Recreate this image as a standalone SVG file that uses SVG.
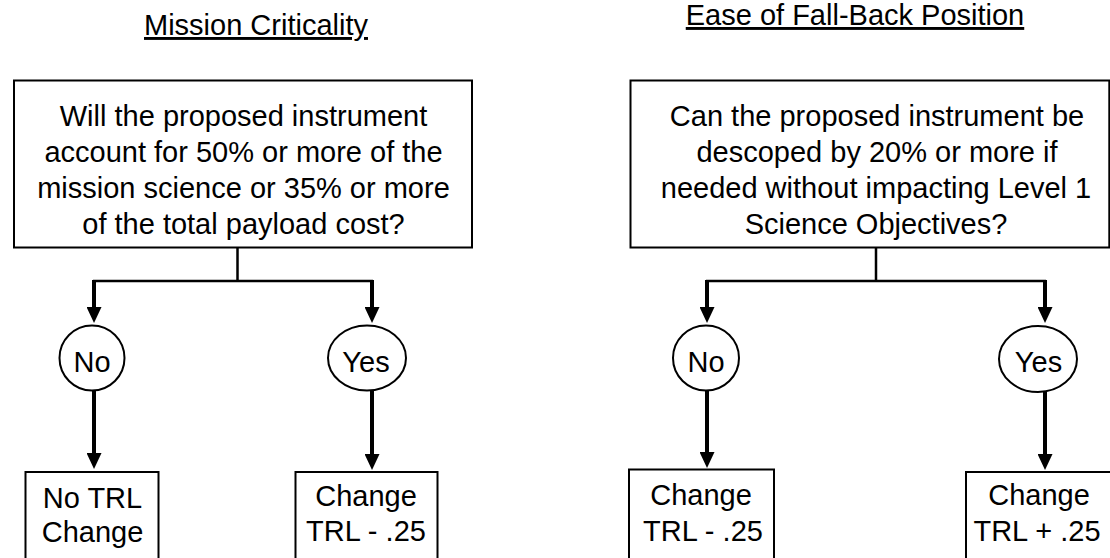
<svg xmlns="http://www.w3.org/2000/svg" width="1110" height="558" viewBox="0 0 1110 558">
  <style>
    text { font-family: "Liberation Sans", Arial, sans-serif; font-size: 29px; fill: #000; text-anchor: middle; }
    .title { text-decoration: underline; }
    .box { fill: #fff; stroke: #000; stroke-width: 2; }
    .stem { fill: none; stroke: #000; stroke-width: 2.5; }
    .arrow { fill: none; stroke: #000; stroke-width: 4; marker-end: url(#head); }
  </style>
  <defs>
    <marker id="head" viewBox="0 0 16 15" refX="6" refY="7.5" markerWidth="16" markerHeight="15" markerUnits="userSpaceOnUse" orient="auto">
      <path d="M0,0 L16,7.5 L0,15 z" fill="#000"/>
    </marker>
  </defs>
  <rect width="1110" height="558" fill="#fff"/>

  <!-- section headings -->
  <text id="title-left" class="title" x="256" y="35">Mission Criticality</text>
  <text id="title-right" class="title" x="855" y="25">Ease of Fall-Back Position</text>

  <!-- connectors -->
  <g id="connectors">
    <path class="stem" d="M237.5,247 V281 M93,281 H373"/>
    <path class="arrow" d="M94,280 V313"/>
    <path class="arrow" d="M372,280 V313"/>
    <path class="arrow" d="M94,390 V459"/>
    <path class="arrow" d="M372,391 V460"/>
    <path class="stem" d="M876,247 V281 M706,281 H1046"/>
    <path class="arrow" d="M707,280 V313"/>
    <path class="arrow" d="M1045,280 V313"/>
    <path class="arrow" d="M707,391 V458"/>
    <path class="arrow" d="M1045,392 V460"/>
  </g>

  <!-- mission criticality question -->
  <g id="q-mission">
    <rect class="box" x="14" y="80.5" width="458" height="167"/>
    <text x="243.5" y="126">Will the proposed instrument</text>
    <text x="243.5" y="162">account for 50% or more of the</text>
    <text x="243.5" y="198">mission science or 35% or more</text>
    <text x="243.5" y="234">of the total payload cost?</text>
  </g>

  <g id="mc-no">
    <ellipse class="box" cx="92" cy="358" rx="32.5" ry="32.5"/>
    <text x="92" y="371.5">No</text>
  </g>
  <g id="mc-yes">
    <ellipse class="box" cx="367" cy="358" rx="39" ry="32.5"/>
    <text x="366" y="371.5">Yes</text>
  </g>

  <g id="mc-no-result">
    <rect class="box" x="25.5" y="472" width="133" height="100"/>
    <text x="92.5" y="508">No TRL</text>
    <text x="92.5" y="542">Change</text>
  </g>
  <g id="mc-yes-result">
    <rect class="box" x="295.5" y="472" width="142" height="100"/>
    <text x="366" y="506">Change</text>
    <text x="366" y="541">TRL - .25</text>
  </g>

  <!-- fall-back question -->
  <g id="q-fallback">
    <rect class="box" x="630.5" y="80.5" width="478.8" height="167"/>
    <text x="877" y="126">Can the proposed instrument be</text>
    <text x="877" y="162">descoped by 20% or more if</text>
    <text x="876" y="198">needed without impacting Level 1</text>
    <text x="876" y="234">Science Objectives?</text>
  </g>

  <g id="fb-no">
    <ellipse class="box" cx="706" cy="358" rx="33" ry="32.5"/>
    <text x="706" y="371.5">No</text>
  </g>
  <g id="fb-yes">
    <ellipse class="box" cx="1038" cy="359" rx="39" ry="33"/>
    <text x="1038.5" y="371.5">Yes</text>
  </g>

  <g id="fb-no-result">
    <rect class="box" x="629" y="469.5" width="145" height="100"/>
    <text x="701" y="505">Change</text>
    <text x="703" y="541">TRL - .25</text>
  </g>
  <g id="fb-yes-result">
    <rect class="box" x="966" y="472" width="150" height="100"/>
    <text x="1039" y="505">Change</text>
    <text x="1037" y="541">TRL + .25</text>
  </g>
</svg>
